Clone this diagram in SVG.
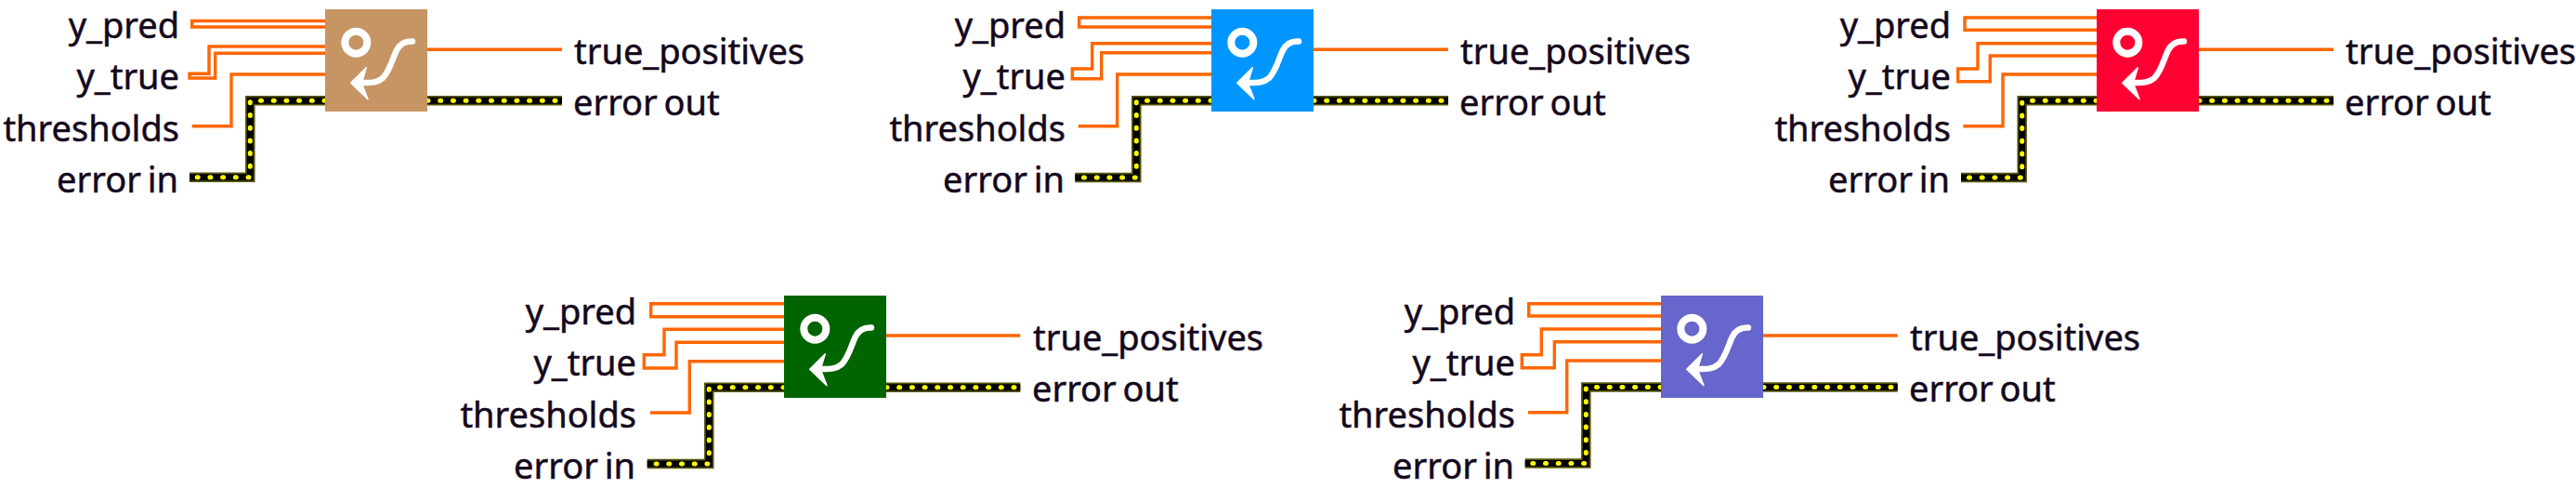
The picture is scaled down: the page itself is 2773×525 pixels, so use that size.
<svg xmlns="http://www.w3.org/2000/svg" width="2773" height="525" viewBox="0 0 2773 525">
<style>
text{font-family:"Noto Sans","Liberation Sans",sans-serif;font-size:38px;fill:#14081c;stroke:#14081c;stroke-width:.5;word-spacing:-3px}
.in{text-anchor:end}
.o{fill:none;stroke:#ff6600;stroke-width:3.4}
.e0,.e1,.e2{fill:none}
.e0{stroke:#55550a;stroke-width:10.5}
.e1{stroke:#000;stroke-width:7}
.e2{stroke:#ffff00;stroke-width:5;stroke-dasharray:1 12.7;stroke-linecap:round}
.ic{fill:none;stroke:#fff;stroke-width:6.5;stroke-linecap:round}
.ring{fill:none;stroke:#fff;stroke-width:8}
</style>
<defs>
<g id="icon">
<circle class="ring" cx="33.3" cy="35.7" r="12"/>
<path class="ic" d="M94,34.5C86,34 80,38 77,44C72,54 70,66 62,74C56,79 50,79 42,79"/>
<path d="M27.7,79.3L44.3,62.7L39.3,79.3L46,96.7Z" fill="#fff" stroke="#fff" stroke-width="1.5" stroke-linejoin="round"/>
</g>
<path id="ew1" d="M350,108.3H269.3V190.7H204"/>
<path id="ex1" d="M460,108.3H605"/>
<path id="ew2" d="M1304,108.3H1223.3V191H1157.3"/>
<path id="ex2" d="M1414,108.3H1559"/>
<path id="ew3" d="M2257,108.3H2176.7V191H2111"/>
<path id="ex3" d="M2367,108.3H2512"/>
<path id="ew4" d="M844,416.7H763.3V499H696.7"/>
<path id="ex4" d="M954,416.7H1098.3"/>
<path id="ew5" d="M1788,416.5H1707.3V498.5H1641.7"/>
<path id="ex5" d="M1898,416.5H2042.7"/>
</defs>
<rect width="2773" height="525" fill="#fff"/>
<g id="connectors">
<path class="o" d="M350,22.5H206.7V29H350"/>
<path class="o" d="M350,50H225V79.3H204V84H231.7V57.3H350"/>
<path class="o" d="M350,80H249V135.7H206.7"/>
<path class="o" d="M460,53.3H605"/>
<path class="o" d="M1304,19H1161.7V29H1304"/>
<path class="o" d="M1304,46.7H1175.7V74H1154.3V84.7H1185.7V56.7H1304"/>
<path class="o" d="M1304,80H1202.7V135.7H1160.7"/>
<path class="o" d="M1414,53.3H1559"/>
<path class="o" d="M2257,19H2115V32.3H2257"/>
<path class="o" d="M2257,46.7H2129V74H2107.7V87.7H2142.3V60H2257"/>
<path class="o" d="M2257,80H2156V135.7H2113.3"/>
<path class="o" d="M2367,53.3H2512"/>
<path class="o" d="M844,326.7H700.7V340.7H844"/>
<path class="o" d="M844,354.3H715V381.7H693.3V396H728V368.3H844"/>
<path class="o" d="M844,388.7H742.3V444H700"/>
<path class="o" d="M954,361H1098.3"/>
<path class="o" d="M1788,326.7H1645.7V340H1788"/>
<path class="o" d="M1788,354H1659.3V381.7H1638.3V395.7H1673.3V367.7H1788"/>
<path class="o" d="M1788,388H1686.7V443.7H1645"/>
<path class="o" d="M1898,361H2042.7"/>
<use href="#ew1" class="e0"/><use href="#ew1" class="e1"/><use href="#ew1" class="e2"/>
<use href="#ex1" class="e0"/><use href="#ex1" class="e1"/><use href="#ex1" class="e2"/>
<use href="#ew2" class="e0"/><use href="#ew2" class="e1"/><use href="#ew2" class="e2"/>
<use href="#ex2" class="e0"/><use href="#ex2" class="e1"/><use href="#ex2" class="e2"/>
<use href="#ew3" class="e0"/><use href="#ew3" class="e1"/><use href="#ew3" class="e2"/>
<use href="#ex3" class="e0"/><use href="#ex3" class="e1"/><use href="#ex3" class="e2"/>
<use href="#ew4" class="e0"/><use href="#ew4" class="e1"/><use href="#ew4" class="e2"/>
<use href="#ex4" class="e0"/><use href="#ex4" class="e1"/><use href="#ex4" class="e2"/>
<use href="#ew5" class="e0"/><use href="#ew5" class="e1"/><use href="#ew5" class="e2"/>
<use href="#ex5" class="e0"/><use href="#ex5" class="e1"/><use href="#ex5" class="e2"/>
</g>
<g id="node-tan">
<rect x="350" y="10" width="110" height="110" fill="#c69563"/>
<use href="#icon" x="350" y="10"/>
<text class="in" x="193" y="41">y_pred</text><text class="in" x="193" y="96">y_true</text><text class="in" x="193" y="151.5">thresholds</text><text class="in" x="192" y="207">error in</text>
<text x="618" y="69">true_positives</text><text x="617" y="124">error out</text>
</g>
<g id="node-blue">
<rect x="1304" y="10" width="110" height="110" fill="#0096ff"/>
<use href="#icon" x="1304" y="10"/>
<text class="in" x="1147" y="41">y_pred</text><text class="in" x="1147" y="96">y_true</text><text class="in" x="1147" y="151.5">thresholds</text><text class="in" x="1146" y="207">error in</text>
<text x="1572" y="69">true_positives</text><text x="1571" y="124">error out</text>
</g>
<g id="node-red">
<rect x="2257" y="10" width="110" height="110" fill="#ff0033"/>
<use href="#icon" x="2257" y="10"/>
<text class="in" x="2100" y="41">y_pred</text><text class="in" x="2100" y="96">y_true</text><text class="in" x="2100" y="151.5">thresholds</text><text class="in" x="2099" y="207">error in</text>
<text x="2525" y="69">true_positives</text><text x="2524" y="124">error out</text>
</g>
<g id="node-green">
<rect x="844" y="318" width="110" height="110" fill="#006400"/>
<use href="#icon" x="844" y="318"/>
<text class="in" x="685" y="349">y_pred</text><text class="in" x="685" y="404">y_true</text><text class="in" x="685" y="459.5">thresholds</text><text class="in" x="684" y="515">error in</text>
<text x="1112" y="377">true_positives</text><text x="1111" y="432">error out</text>
</g>
<g id="node-purple">
<rect x="1788" y="318" width="110" height="110" fill="#6666cc"/>
<use href="#icon" x="1788" y="318"/>
<text class="in" x="1631" y="349">y_pred</text><text class="in" x="1631" y="404">y_true</text><text class="in" x="1631" y="459.5">thresholds</text><text class="in" x="1630" y="515">error in</text>
<text x="2056" y="377">true_positives</text><text x="2055" y="432">error out</text>
</g>
</svg>
